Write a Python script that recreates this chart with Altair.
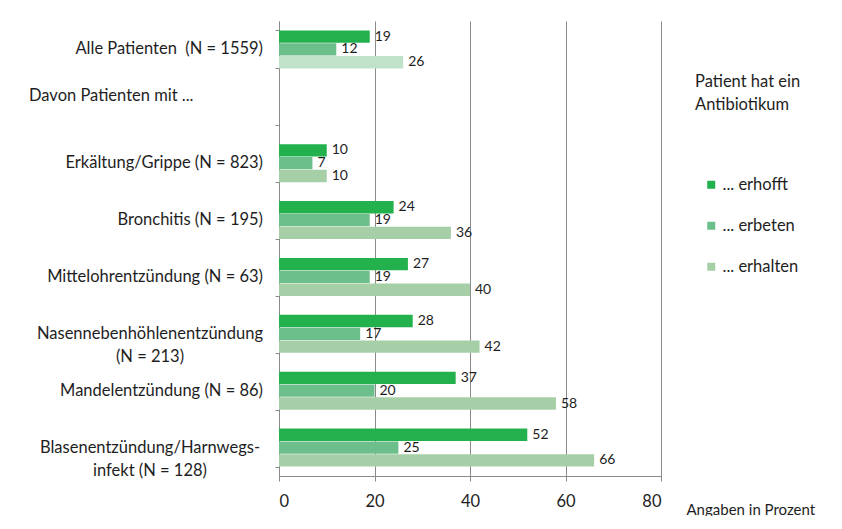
import altair as alt
import pandas as pd

# ---- data ----
categories = [
    "Alle Patienten",
    "Davon",
    "Erkältung/Grippe",
    "Bronchitis",
    "Mittelohrentzündung",
    "Nasennebenhöhlenentzündung",
    "Mandelentzündung",
    "Blasenentzündung/Harnwegsinfekt",
]
category_labels = [
    "Alle Patienten \u00a0(N = 1559)",
    "Davon Patienten mit ...",
    "Erkältung/Grippe (N = 823)",
    "Bronchitis (N = 195)",
    "Mittelohrentzündung (N = 63)",
    "Nasennebenhöhlenentzündung\n(N = 213)",
    "Mandelentzündung (N = 86)",
    "Blasenentzündung/Harnwegs-\ninfekt (N = 128)",
]
label_kind = ["right", "left", "right", "right", "right", "center", "right", "center"]

series = ["... erhofft", "... erbeten", "... erhalten"]
erhofft = [19, None, 10, 24, 27, 28, 37, 52]
erbeten = [12, None, 7, 19, 19, 17, 20, 25]
erhalten = [26, None, 10, 36, 40, 42, 58, 66]

colors = ["#23b14d", "#6cbf8b", "#a7cfa7"]
alle_erhalten_color = "#c0e2c8"

FONT = "Lato"
TEXT_COLOR = "#1e1e1e"
AXIS_GRAY = "#8a8a8a"
LABEL_SIZE = 16.5

rows = []
for i, c in enumerate(categories):
    for s, vals in zip(series, [erhofft, erbeten, erhalten]):
        if vals[i] is not None:
            rows.append({"cat": c, "series": s, "value": vals[i]})
df = pd.DataFrame(rows)

labels_df = pd.DataFrame({"cat": categories, "label": category_labels, "kind": label_kind})

y_enc = alt.Y(
    "cat:N",
    sort=categories,
    scale=alt.Scale(domain=categories, paddingInner=0.333, paddingOuter=0.1665),
    axis=alt.Axis(
        labels=False, title=None, tickBand="extent", tickSize=4,
        domainColor=AXIS_GRAY, tickColor=AXIS_GRAY, grid=False,
    ),
)
yoff = alt.YOffset("series:N", sort=series, scale=alt.Scale(domain=series, paddingInner=0.04))

x_enc = alt.X(
    "value:Q",
    scale=alt.Scale(domain=[0, 80]),
    axis=alt.Axis(
        values=[0, 20, 40, 60, 80], grid=True, gridColor=AXIS_GRAY, gridWidth=1,
        domainColor=AXIS_GRAY, tickColor=AXIS_GRAY, tickSize=5,
        labelFont=FONT, labelFontSize=16.5, labelColor=TEXT_COLOR, labelPadding=12,
        title="Angaben in Prozent", titleFont=FONT, titleFontSize=15,
        titleFontWeight="normal", titleColor=TEXT_COLOR,
        titleX=407, titleY=33, titleAlign="left", titleBaseline="middle",
    ),
)

color_enc = alt.condition(
    "datum.cat === 'Alle Patienten' && datum.series === '... erhalten'",
    alt.value(alle_erhalten_color),
    alt.Color(
        "series:N",
        sort=series,
        scale=alt.Scale(domain=series, range=colors),
        legend=alt.Legend(
            title=["Patient hat ein", "Antibiotikum"],
            orient="none", legendX=416, legendY=53,
            symbolType="square", symbolSize=64, symbolStrokeWidth=0,
            symbolOffset=8, labelOffset=3, rowPadding=24, titlePadding=63,
            labelFont=FONT, labelFontSize=16.5, labelColor=TEXT_COLOR,
            titleFont=FONT, titleFontSize=16.5, titleFontWeight="normal",
            titleColor=TEXT_COLOR, titleLineHeight=23,
        ),
    ),
)

bars = alt.Chart(df).mark_bar().encode(y=y_enc, yOffset=yoff, x=x_enc, color=color_enc)

values = alt.Chart(df).mark_text(
    align="left", baseline="middle", dx=5, font=FONT, fontSize=14, color=TEXT_COLOR
).encode(y=alt.Y("cat:N", sort=categories), yOffset=yoff, x="value:Q", text="value:Q")

lab_right = alt.Chart(labels_df).transform_filter("datum.kind === 'right'").mark_text(
    align="right", baseline="middle", font=FONT, fontSize=LABEL_SIZE, color=TEXT_COLOR
).encode(y=alt.Y("cat:N", sort=categories), x=alt.value(-16), text="label:N")

lab_center = alt.Chart(labels_df).transform_filter("datum.kind === 'center'").mark_text(
    align="center", baseline="middle", font=FONT, fontSize=LABEL_SIZE, color=TEXT_COLOR,
    lineBreak="\n", lineHeight=23,
).encode(y=alt.Y("cat:N", sort=categories), x=alt.value(-129), text="label:N")

lab_left = alt.Chart(labels_df).transform_filter("datum.kind === 'left'").mark_text(
    align="left", baseline="middle", font=FONT, fontSize=LABEL_SIZE, color=TEXT_COLOR, dy=-10,
).encode(y=alt.Y("cat:N", sort=categories), x=alt.value(-250), text="label:N")

chart = alt.layer(bars, values, lab_right, lab_center, lab_left).properties(
    width=382,
    height=455,
    autosize=alt.AutoSizeParams(type="none"),
    padding={"left": 271, "top": 13, "right": 165, "bottom": 40},
    background="white",
).configure_view(stroke=None)

chart.save("out.html", embed_options={"renderer": "svg", "actions": False})
